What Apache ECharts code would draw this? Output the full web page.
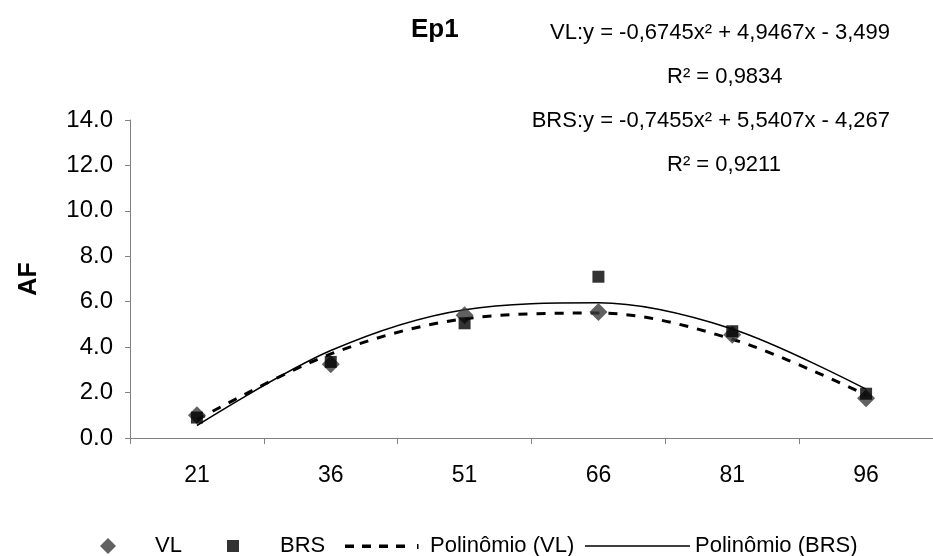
<!DOCTYPE html>
<html>
<head>
<meta charset="utf-8">
<script src="https://cdn.jsdelivr.net/npm/echarts@6/dist/echarts.min.js"></script>
<style>
html,body{margin:0;padding:0;background:#fff;}
#chart{width:933px;height:556px;}
</style>
</head>
<body>
<div id="chart"></div>
<script>
// Categories (x axis)
const categories = ['21', '36', '51', '66', '81', '96'];
const vlValues = [1.0, 3.25, 5.4, 5.55, 4.55, 1.75];
const brsValues = [0.9, 3.35, 5.05, 7.1, 4.7, 1.95];
// Trendline heights at each category
const vlTrend = [0.8, 3.7, 5.25, 5.5, 4.35, 1.9];
const brsTrend = [0.55, 3.85, 5.65, 5.95, 4.8, 2.15];
// Texts
const titleText = 'Ep1';
const vlEquation = 'VL:y = -0,6745x² + 4,9467x - 3,499';
const vlR2 = 'R² = 0,9834';
const brsEquation = 'BRS:y = -0,7455x² + 5,5407x - 4,267';
const brsR2 = 'R² = 0,9211';
const yName = 'AF';
const seriesNames = ['VL', 'BRS', 'Polinômio (VL)', 'Polinômio (BRS)'];

const FONT = 'Liberation Sans, Arial, sans-serif';
const chart = echarts.init(document.getElementById('chart'), null, {renderer: 'canvas'});
const eqStyle = {fontFamily: FONT, fontSize: 22, fontWeight: 'normal', color: '#000'};
const legText = {fontFamily: FONT, fontSize: 22, color: '#000'};
// legend icon shapes (dashed / solid line samples)
const dashIcon = 'path://M0,0h0.01v0.01h-0.01z M79.99,13.99h0.01v0.01h-0.01z M0,5.5h9v3.5h-9z M17,5.5h9v3.5h-9z M34,5.5h9v3.5h-9z M51,5.5h9v3.5h-9z M72,5h1.5v5h-1.5z';
const solidIcon = 'path://M0,0h0.01v0.01h-0.01z M104.99,13.99h0.01v0.01h-0.01z M0,6.3h105v1.4h-105z';
const LEG_TOP = 530;
chart.setOption({
  animation: false,
  backgroundColor: '#fff',
  title: [
    {text: titleText, left: 406, top: 12, textStyle: {fontFamily: FONT, fontSize: 26, fontWeight: 'bold', color: '#000'}},
    {text: vlEquation, right: 38, top: 17, textStyle: eqStyle},
    {text: vlR2, left: 662, top: 61, textStyle: eqStyle},
    {text: brsEquation, right: 38, top: 105, textStyle: eqStyle},
    {text: brsR2, left: 662, top: 149, textStyle: eqStyle}
  ],
  legend: [
    {data: [seriesNames[0]], left: 95, top: LEG_TOP, itemWidth: 16, itemHeight: 16, itemGap: 0,
     itemStyle: {borderWidth: 0}, textStyle: Object.assign({padding: [0, 0, 0, 34]}, legText)},
    {data: [seriesNames[1]], left: 222, top: LEG_TOP, itemWidth: 12, itemHeight: 12, itemGap: 0,
     itemStyle: {borderWidth: 0}, textStyle: Object.assign({padding: [0, 0, 0, 36]}, legText)},
    {data: [{name: seriesNames[2], icon: dashIcon}], left: 340, top: LEG_TOP, itemWidth: 80, itemHeight: 14,
     itemStyle: {borderWidth: 0, color: '#000'}, textStyle: legText},
    {data: [{name: seriesNames[3], icon: solidIcon}], left: 580, top: LEG_TOP, itemWidth: 105, itemHeight: 14,
     itemStyle: {borderWidth: 0, color: '#000'}, textStyle: legText}
  ],
  grid: {left: 130, right: -8, top: 120, bottom: 118, containLabel: false},
  xAxis: {
    type: 'category',
    data: categories,
    boundaryGap: true,
    axisLine: {lineStyle: {color: '#808080', width: 1}},
    axisTick: {show: true, alignWithLabel: false, length: 6, lineStyle: {color: '#808080'}},
    axisLabel: {fontFamily: FONT, fontSize: 23, color: '#000', margin: 26},
    splitLine: {show: false}
  },
  yAxis: {
    type: 'value',
    min: 0, max: 14, interval: 2,
    name: yName,
    nameLocation: 'middle',
    nameGap: 88,
    nameTextStyle: {fontFamily: FONT, fontSize: 25, fontWeight: 'bold', color: '#000'},
    axisLine: {show: true, lineStyle: {color: '#808080', width: 1}},
    axisTick: {show: true, length: 5, lineStyle: {color: '#808080'}},
    axisLabel: {fontFamily: FONT, fontSize: 24, color: '#000', margin: 17, formatter: v => v.toFixed(1)},
    splitLine: {show: false}
  },
  series: [
    {name: seriesNames[2], type: 'line', data: vlTrend, smooth: 0.33, symbol: 'none',
     lineStyle: {color: '#000', width: 3, type: [9, 9]}, itemStyle: {color: '#000'}, z: 2},
    {name: seriesNames[3], type: 'line', data: brsTrend, smooth: 0.33, symbol: 'none',
     lineStyle: {color: '#000', width: 1.5, type: 'solid'}, itemStyle: {color: '#000'}, z: 2},
    {name: seriesNames[0], type: 'scatter', data: vlValues, symbol: 'diamond', symbolSize: 18,
     itemStyle: {color: '#3a3a3a'}, z: 3},
    {name: seriesNames[1], type: 'scatter', data: brsValues, symbol: 'rect', symbolSize: 12,
     itemStyle: {color: '#000'}, z: 4}
  ]
});
</script>
</body>
</html>
